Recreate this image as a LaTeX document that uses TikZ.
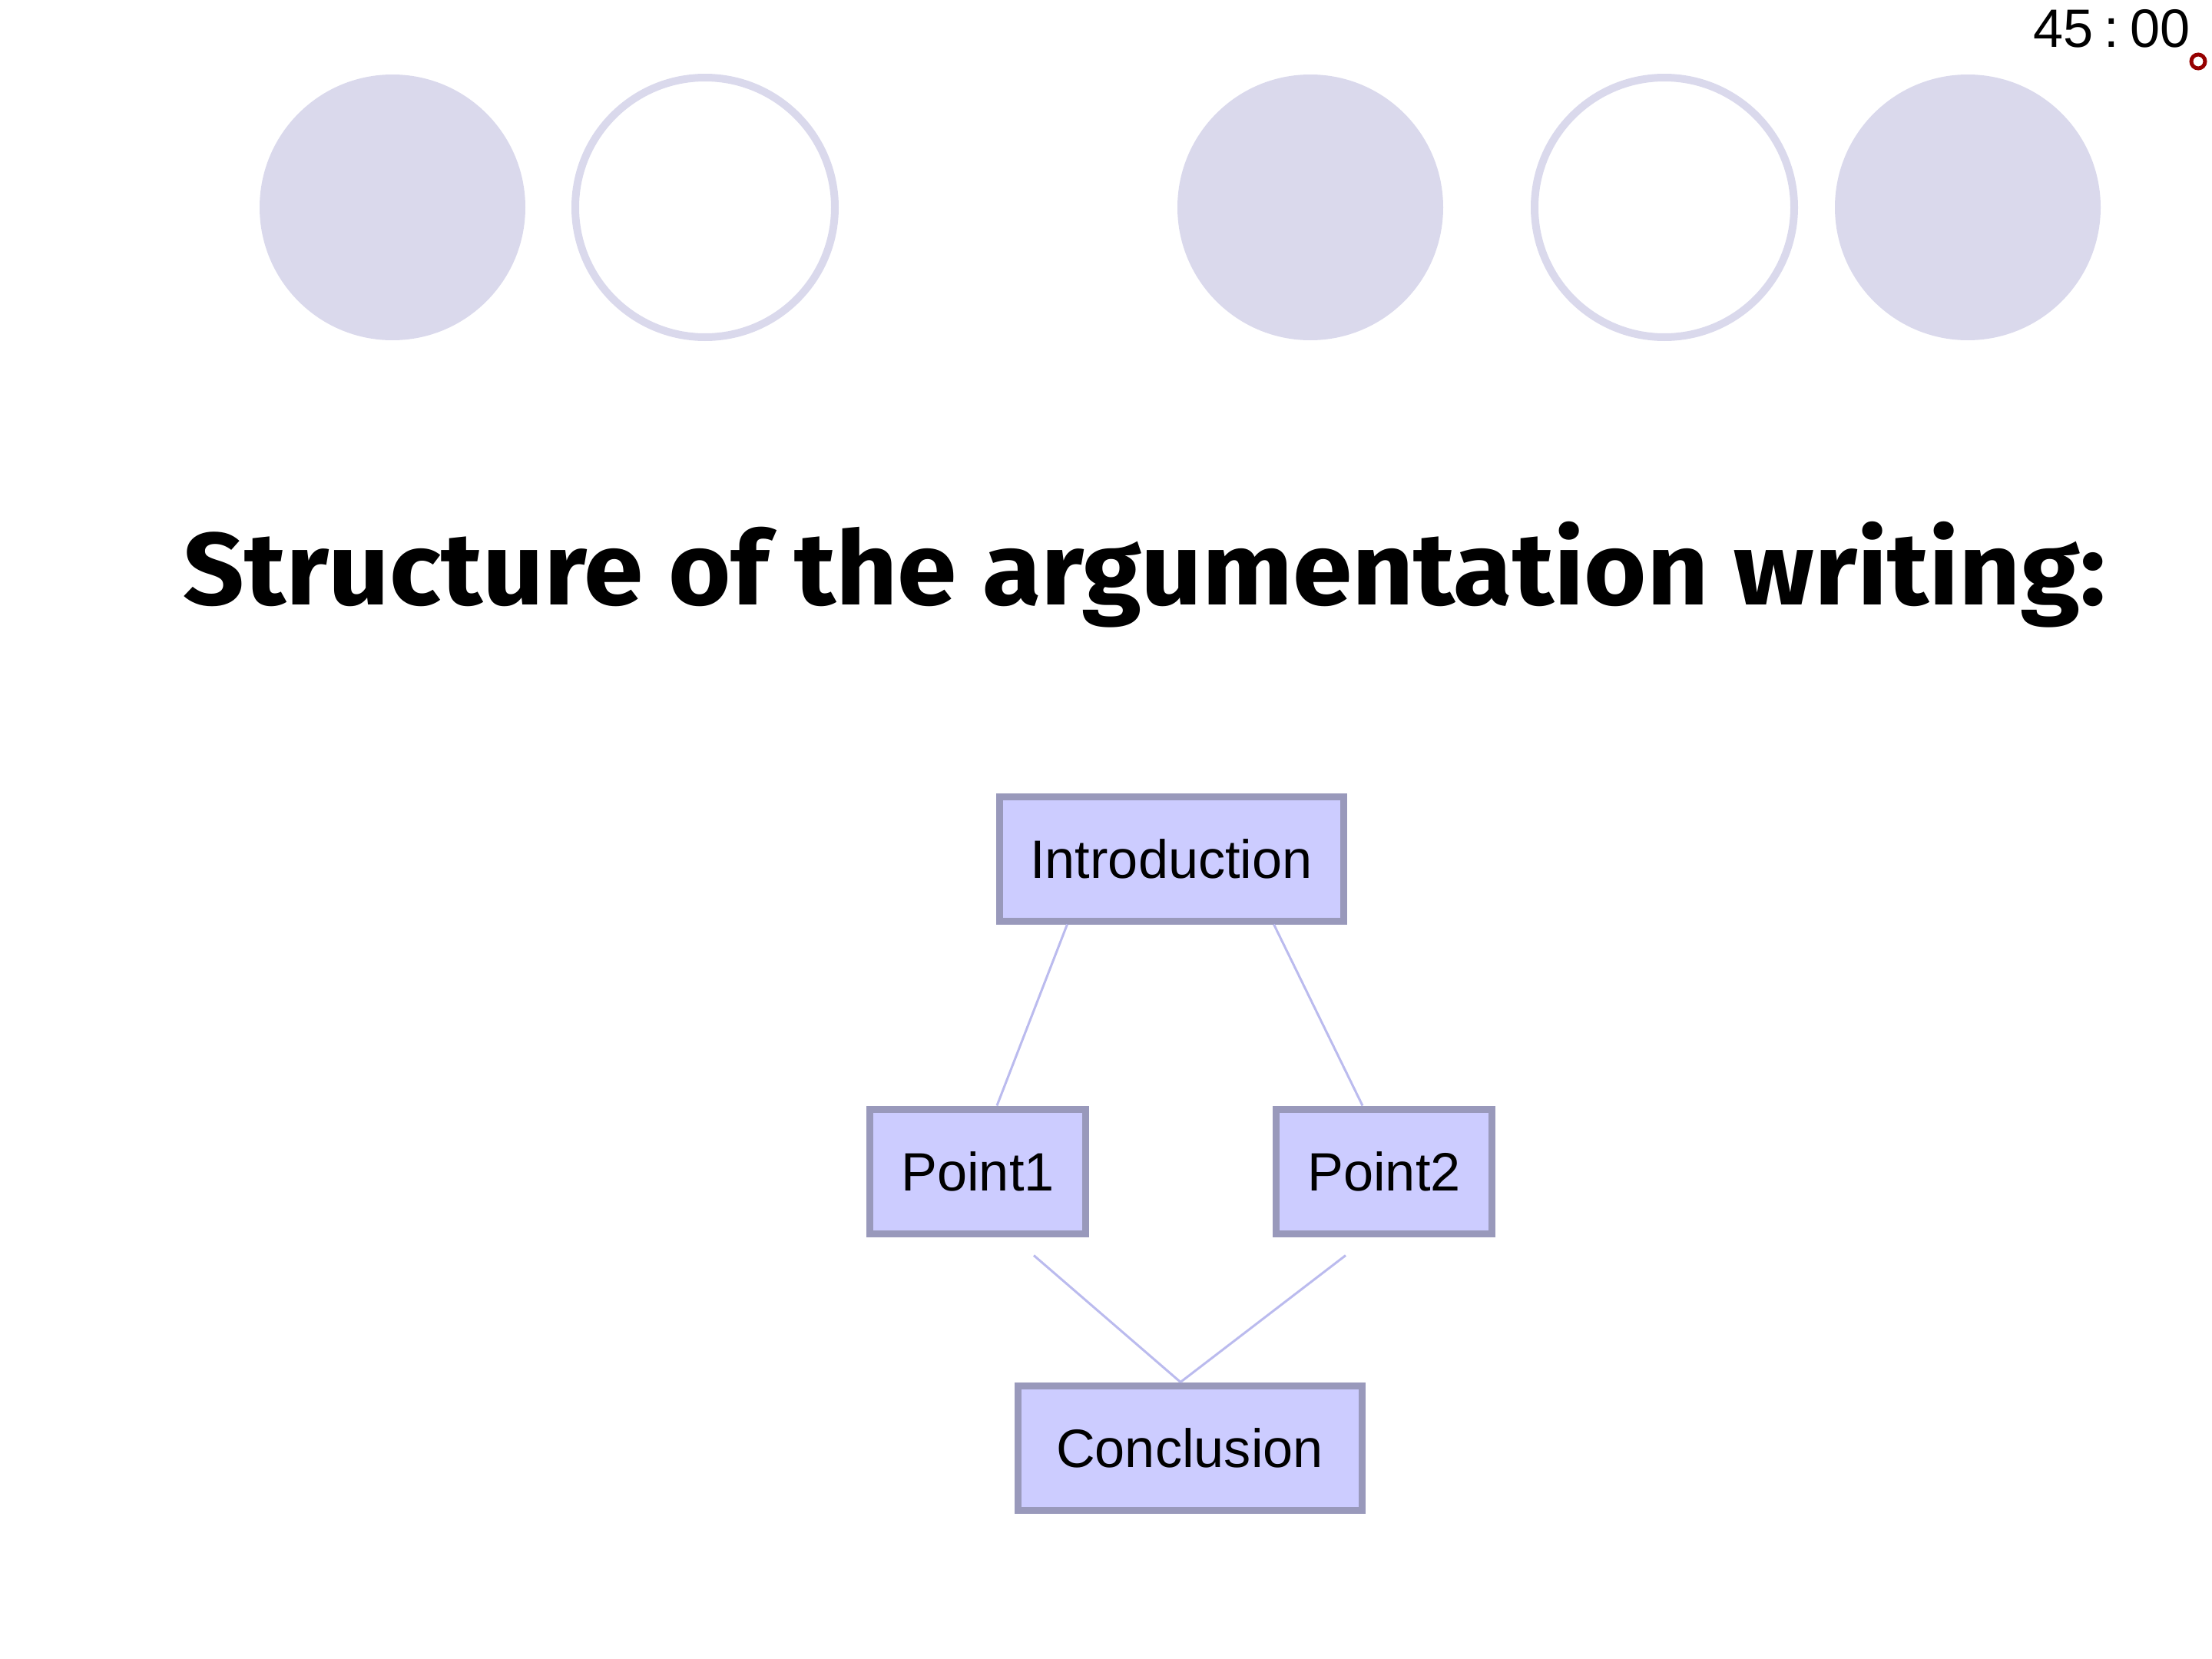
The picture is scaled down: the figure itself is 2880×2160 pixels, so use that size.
\documentclass[tikz,border=0pt]{standalone}
\usepackage{fontspec}
\setmainfont{Liberation Sans}
\newfontfamily\titlefont{Fira Sans}
\usetikzlibrary{calc}

\definecolor{ringlila}{RGB}{218,217,236}
\definecolor{boxfill}{RGB}{204,204,255}
\definecolor{boxrand}{RGB}{153,153,187}
\definecolor{linie}{RGB}{187,187,238}
\definecolor{uhrrot}{RGB}{150,0,0}

\tikzset{
    teil/.style={draw=boxrand,fill=boxfill,line width=0.9mm,minimum height=16.2mm,
        font=\fontsize{20}{24}\selectfont,inner sep=0pt},
    verbindung/.style={linie,line width=0.3mm}
}

\begin{document}
\begin{tikzpicture}[x=0.1mm,y=-0.1mm]
        \useasboundingbox (0,0) rectangle (2880,2160);
        %\draw[step=100] (0,0) grid (2880,2160);

        % Kreise oben
        \fill[ringlila] (511,270) circle (17.3mm);
        \draw[ringlila,line width=1mm] (918,270) circle (16.9mm);
        \fill[ringlila] (1706,270) circle (17.3mm);
        \draw[ringlila,line width=1mm] (2167,270) circle (16.9mm);
        \fill[ringlila] (2562,270) circle (17.3mm);

        % Uhr
        \node[anchor=base east,inner sep=0pt,font=\fontsize{20}{24}\selectfont] (uhr) at (2852,62) {45\kern4pt:\kern4pt00};
        \draw[uhrrot,line width=0.5mm,fill=white] (2862,80) circle (0.9mm);

        \node[anchor=base,inner sep=0pt,font=\titlefont\bfseries\fontsize{38}{44}\selectfont] (titel) at (1490,787) {\scalebox{1.045}[1]{Structure of the argumentation writing:}};

        \node[teil,minimum width=44.8mm] (intro) at (1525,1118) {Introduction};
        \node[teil,minimum width=28.1mm] (punkt1) at (1273,1525) {Point1};
        \node[teil,minimum width=28.1mm] (punkt2) at (1802,1525) {Point2};
        \node[teil,minimum width=44.8mm] (schluss) at (1549,1885) {Conclusion};

        \draw[verbindung] ([xshift=9.3mm]intro.south west) -- ([xshift=2.5mm]punkt1.north);
        \draw[verbindung] ([xshift=-9.5mm]intro.south east) -- ([xshift=-2.8mm]punkt2.north);
        \draw[verbindung] ([xshift=7.3mm,yshift=-2.4mm]punkt1.south) -- ([xshift=-1.2mm]schluss.north);
        \draw[verbindung] ([xshift=-5mm,yshift=-2.4mm]punkt2.south) -- ([xshift=-1.2mm]schluss.north);
    \end{tikzpicture}
\end{document}
